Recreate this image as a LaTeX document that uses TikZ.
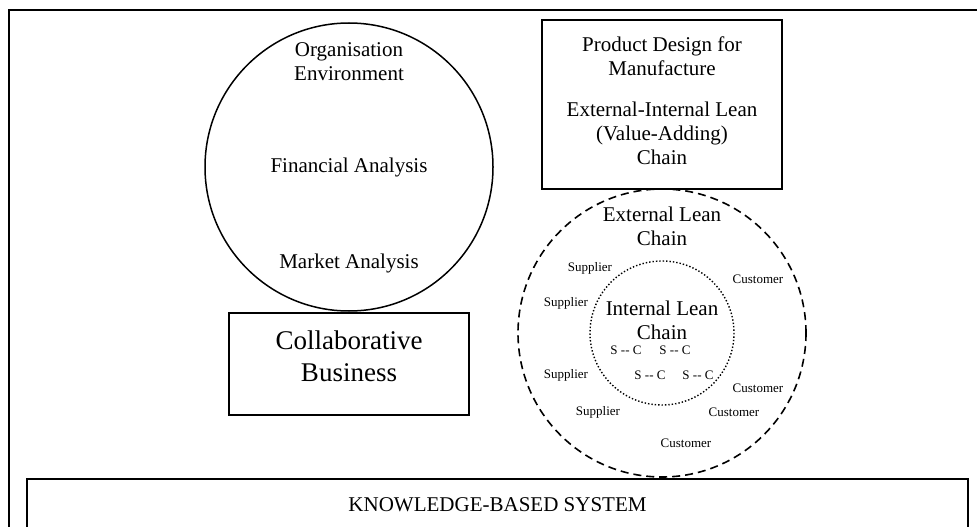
\documentclass[tikz,border=0pt]{standalone}
\usepackage{fontspec}
\setmainfont{Liberation Serif}
\usetikzlibrary{positioning}

\begin{document}
\begin{tikzpicture}[x=1pt,y=-1pt,
    frame/.style={draw,line width=1.8pt},
    big/.style={align=center,inner sep=0pt,font=\fontsize{21}{24}\selectfont},
    huge/.style={align=center,inner sep=0pt,font=\fontsize{27}{32}\selectfont},
    tiny/.style={inner sep=0pt,font=\fontsize{13}{15}\selectfont}]
  \useasboundingbox
    (0,0)
    rectangle
    (977,527);
  \clip
    (0,0)
    rectangle
    (977,527);
  % outer frame, runs off the page at right and bottom
  \draw[frame]
    (9,10)
    rectangle
    (1000,560);
  \coordinate (org) at (349,167);
  \coordinate (ext) at (662,333);
  % organisation circle
  \draw[line width=1.5pt]
    (org)
    circle
    [radius=144];
  \node[big] (orgenv) at (349,62) {Organisation\\Environment};
  \node[big] (fin) at (349,167) {Financial Analysis};
  \node[big] (mkt) at (349,263) {Market Analysis};
  % collaborative business
  \node[frame,minimum width=240,minimum height=102] (collab) at (349,364) {};
  \node[huge] (collabtxt) at (349,356) {Collaborative\\Business};
  % product design box
  \node[frame,minimum width=240,minimum height=169] (pdm) at (662,104.5) {};
  \node[big] (pdmtxt) at (662,56.5) {Product Design for\\Manufacture};
  \node[big] (chain) at (662,133) {External-Internal Lean\\(Value-Adding)\\Chain};
  % external and internal lean chains
  \draw[line width=1.6pt,dash pattern=on 8pt off 5pt]
    (ext)
    circle
    [radius=144];
  \draw[line width=1.4pt,dotted]
    (ext)
    circle
    [radius=72];
  \node[big] (extlean) at (662,226.5) {External Lean\\Chain};
  \node[big] (intlean) at (662,320) {Internal Lean\\Chain};
  \node[tiny] (s1) at (590,268) {Supplier};
  \node[tiny] (s2) at (566,303) {Supplier};
  \node[tiny] (s3) at (566,375) {Supplier};
  \node[tiny] (s4) at (598,412) {Supplier};
  \node[tiny] (c1) at (758,279) {Customer};
  \node[tiny] (c2) at (758,388) {Customer};
  \node[tiny] (c3) at (734,412) {Customer};
  \node[tiny] (c4) at (686,443) {Customer};
  \node[tiny] (sc1) at (626,350) {S -{}- C};
  \node[tiny] (sc2) at (675,350) {S -{}- C};
  \node[tiny] (sc3) at (650,375) {S -{}- C};
  \node[tiny] (sc4) at (698,375) {S -{}- C};
  % knowledge-based system
  \draw[frame]
    (27,479)
    rectangle
    (968,570);
  \node[big] (kbs) at (497.5,505) {KNOWLEDGE-BASED SYSTEM};
\end{tikzpicture}
\end{document}
